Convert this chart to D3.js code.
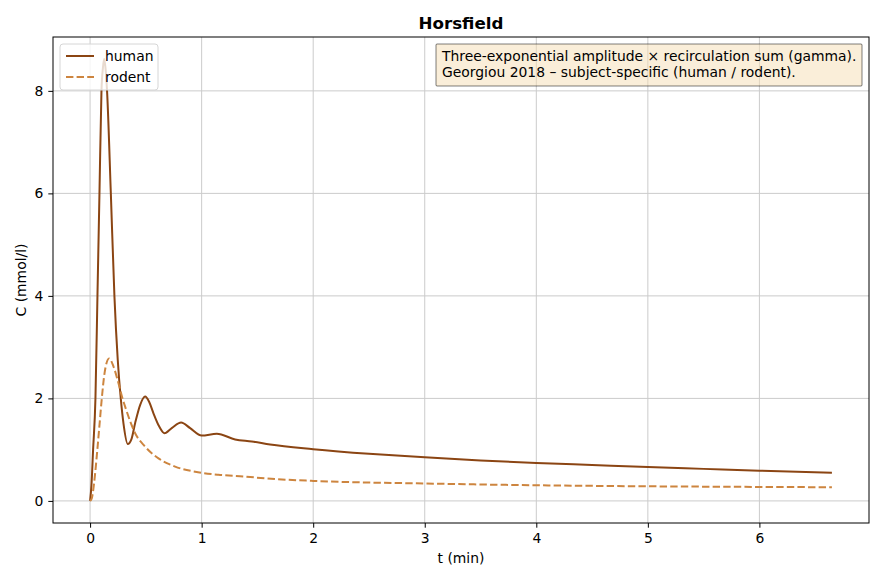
<!DOCTYPE html>
<meta charset="utf-8">
<style>
    body { margin: 0; background: #fff; }
    text { font-family: "DejaVu Sans", sans-serif; }
    .grid line { stroke: #cbcbcb; stroke-width: 1; }
    .axis path, .axis line { stroke: #000; }
</style>

<svg width="884" height="581"></svg>

<script src="https://cdn.jsdelivr.net/npm/d3@7"></script>
<script>

    // DATA

    var humanT = [0, 0.012, 0.027, 0.048, 0.066, 0.084, 0.102, 0.115, 0.126, 0.138, 0.152, 0.186, 0.218, 0.248, 0.275, 0.30, 0.338, 0.37, 0.404, 0.45, 0.493, 0.53, 0.568, 0.62, 0.667, 0.732, 0.816, 0.897, 1.0, 1.136, 1.30, 1.45, 1.614, 2.0, 2.5, 3.0, 3.5, 4.0, 4.5, 5.0, 5.5, 6.0, 6.65];
    var humanC = [0, 0.3, 1.0, 2.0, 4.0, 6.0, 8.0, 8.45, 8.62, 8.45, 8.0, 6.0, 4.0, 2.75, 2.0, 1.5, 1.11, 1.2, 1.52, 1.88, 2.035, 1.93, 1.71, 1.45, 1.32, 1.42, 1.53, 1.42, 1.275, 1.31, 1.20, 1.16, 1.10, 1.01, 0.92, 0.85, 0.79, 0.74, 0.70, 0.66, 0.625, 0.59, 0.55];

    var rodentT = [0, 0.015, 0.036, 0.065, 0.085, 0.105, 0.13, 0.17, 0.21, 0.254, 0.29, 0.314, 0.36, 0.404, 0.493, 0.613, 0.762, 0.942, 1.15, 1.39, 1.57, 2.0, 3.0, 4.0, 5.0, 6.0, 6.65];
    var rodentC = [0, 0.05, 0.35, 1.0, 1.5, 2.0, 2.5, 2.78, 2.62, 2.30, 2.0, 1.84, 1.55, 1.32, 1.06, 0.83, 0.67, 0.57, 0.51, 0.475, 0.44, 0.39, 0.34, 0.305, 0.285, 0.273, 0.267];

    var xTicks = [0, 1, 2, 3, 4, 5, 6];
    var yTicks = [0, 2, 4, 6, 8];

    var series = [
        { name: "human", t: humanT, c: humanC, color: "#8b4513", dash: null },
        { name: "rodent", t: rodentT, c: rodentC, color: "#cd853f", dash: "7.4,3.2" }
    ];

    var noteLines = [
        "Three-exponential amplitude \u00d7 recirculation sum (gamma).",
        "Georgiou 2018 \u2013 subject-specific (human / rodent)."
    ];

    // SETUP

    var svg = d3.select("svg"),
        margin = { top: 37, right: 15, bottom: 58, left: 53 },
        width = 884 - margin.left - margin.right,
        height = 581 - margin.top - margin.bottom,
        fs = "13.9px";

    var xmax = 6.65, ymax = 8.62;
    var x = d3.scaleLinear().domain([-0.05 * xmax, 1.05 * xmax]).range([0, width]);
    var y = d3.scaleLinear().domain([-0.05 * ymax, 1.05 * ymax]).range([height, 0]);

    var g = svg.append("g")
        .attr("transform", "translate(" + margin.left + "," + margin.top + ")");

    // grid
    g.append("g").attr("class", "grid")
        .selectAll("line").data(xTicks).enter().append("line")
        .attr("x1", function (d) { return x(d); }).attr("x2", function (d) { return x(d); })
        .attr("y1", 0).attr("y2", height);
    g.append("g").attr("class", "grid")
        .selectAll("line").data(yTicks).enter().append("line")
        .attr("y1", function (d) { return y(d); }).attr("y2", function (d) { return y(d); })
        .attr("x1", 0).attr("x2", width);

    // lines
    var line = d3.line()
        .x(function (d) { return x(d[0]); })
        .y(function (d) { return y(d[1]); })
        .curve(d3.curveMonotoneX);

    series.forEach(function (s) {
        var pts = s.t.map(function (t, i) { return [t, s.c[i]]; });
        g.append("path")
            .datum(pts)
            .attr("fill", "none")
            .attr("stroke", s.color)
            .attr("stroke-width", 2)
            .attr("stroke-dasharray", s.dash)
            .attr("d", line);
    });

    // axes
    g.append("g")
        .attr("class", "axis")
        .attr("transform", "translate(0," + height + ")")
        .call(d3.axisBottom(x).tickValues(xTicks).tickFormat(d3.format("d")).tickSize(4.7).tickPadding(5))
        .call(function (a) { a.select(".domain").remove(); })
        .selectAll("text").style("font-size", fs).style("fill", "#000");

    g.append("g")
        .attr("class", "axis")
        .call(d3.axisLeft(y).tickValues(yTicks).tickFormat(d3.format("d")).tickSize(4.7).tickPadding(5))
        .call(function (a) { a.select(".domain").remove(); })
        .selectAll("text").style("font-size", fs).style("fill", "#000");

    g.append("rect")
        .attr("width", width).attr("height", height)
        .attr("fill", "none").attr("stroke", "#000").attr("stroke-width", 1);

    // labels
    svg.append("text")
        .attr("x", margin.left + width / 2).attr("y", 29)
        .attr("text-anchor", "middle")
        .style("font-size", "16.7px").style("font-weight", "bold")
        .text("Horsfield");

    svg.append("text")
        .attr("x", margin.left + width / 2).attr("y", 563)
        .attr("text-anchor", "middle")
        .style("font-size", fs)
        .text("t (min)");

    svg.append("text")
        .attr("transform", "translate(26," + (margin.top + height / 2) + ") rotate(-90)")
        .attr("text-anchor", "middle")
        .style("font-size", fs)
        .text("C (mmol/l)");

    // legend
    var leg = g.append("g").attr("transform", "translate(7,7)");
    leg.append("rect")
        .attr("width", 98).attr("height", 46).attr("rx", 3)
        .attr("fill", "#fff").attr("fill-opacity", 0.8)
        .attr("stroke", "#d6d6d6");
    series.forEach(function (s, i) {
        var yy = 12 + i * 21;
        leg.append("line")
            .attr("x1", 6).attr("x2", 34).attr("y1", yy).attr("y2", yy)
            .attr("stroke", s.color).attr("stroke-width", 2)
            .attr("stroke-dasharray", s.dash);
        leg.append("text")
            .attr("x", 45).attr("y", yy + 5)
            .style("font-size", fs)
            .text(s.name);
    });

    // note box
    var note = g.append("g").attr("transform", "translate(" + (width - 433) + ",7)");
    note.append("rect")
        .attr("width", 426).attr("height", 42).attr("rx", 1)
        .attr("fill", "#f5deb3").attr("fill-opacity", 0.5)
        .attr("stroke", "#000").attr("stroke-opacity", 0.5);
    note.selectAll("text").data(noteLines).enter().append("text")
        .attr("x", 6).attr("y", function (d, i) { return 17 + i * 16; })
        .style("font-size", fs)
        .text(function (d) { return d; });

</script>
